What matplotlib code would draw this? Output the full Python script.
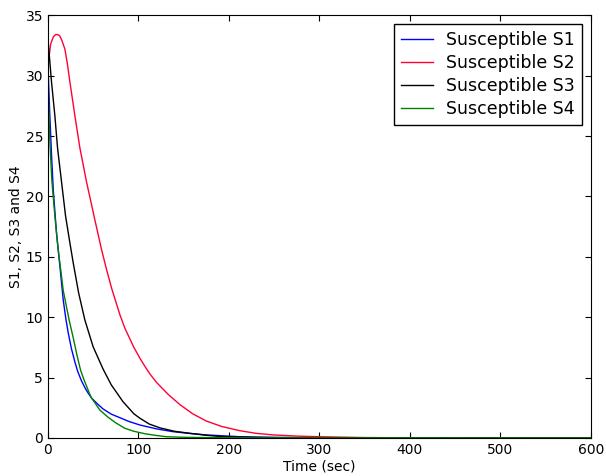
import matplotlib
matplotlib.use("Agg")
import matplotlib.pyplot as plt

# values
t_s1 = [0, 2, 4, 6, 9.6, 13.3, 17, 20, 22.5, 26, 29.8, 33, 37, 41, 44.6, 48.3,
        55, 61, 70, 81, 90, 101.7, 120, 138, 157, 175, 212, 250, 300, 400, 600]
s1 = [31, 27, 23.5, 20.5, 16.9, 14.2, 11.4, 9.8, 8.7, 7.4, 6.3, 5.5, 4.75, 4.15, 3.7, 3.3,
      2.8, 2.4, 1.97, 1.63, 1.35, 1.07, 0.75, 0.52, 0.37, 0.25, 0.1, 0.04, 0.01, 0.0, 0.0]

t_s2 = [0, 1.1, 3, 6, 8.5, 10.7, 13, 15.5, 18.8, 21.5, 24.3, 29.8, 35.4, 42.7, 48.3, 51.2,
        59.3, 65, 70.4, 79.6, 85, 95, 101.7, 107, 112.7, 120, 133, 146, 160, 175, 192,
        212, 230, 249, 275, 300, 350, 400, 450, 600]
s2 = [30.5, 31.4, 32.6, 33.2, 33.4, 33.4, 33.3, 32.9, 32.2, 31.0, 29.5, 26.7, 24.0, 21.2, 19.3, 18.3,
      15.6, 13.9, 12.4, 10.2, 9.1, 7.5, 6.6, 5.95, 5.3, 4.6, 3.6, 2.75, 2.0, 1.4, 0.95,
      0.6, 0.38, 0.25, 0.15, 0.1, 0.03, 0.01, 0.0, 0.0]

t_s3 = [0, 2, 4, 7.7, 10.7, 15.1, 19.5, 24, 28, 34, 40.9, 50, 61, 70, 83, 95, 101.7,
        112, 124, 140, 157, 175, 193, 230, 300, 600]
s3 = [33, 31.3, 29.5, 26.7, 24.0, 21.2, 18.4, 16.3, 14.5, 12.0, 9.76, 7.55, 5.7, 4.4, 3.0, 2.0, 1.63,
      1.15, 0.83, 0.55, 0.38, 0.22, 0.1, 0.04, 0.01, 0.0]

t_s4 = [0, 2.2, 4.4, 7.7, 11.4, 17, 23.5, 28, 32, 36.1, 40, 46.4, 48.3, 52, 57.5, 66.7,
        75, 85, 95, 107, 120, 131, 150, 200, 600]
s4 = [29.5, 24.5, 21.3, 18.4, 15.6, 12.2, 9.76, 8.3, 6.9, 5.62, 4.8, 3.6, 3.3, 2.9, 2.3, 1.7,
      1.25, 0.8, 0.55, 0.35, 0.2, 0.1, 0.05, 0.01, 0.0]

series = [
    (t_s1, s1, "Susceptible S1", "blue"),
    (t_s2, s2, "Susceptible S2", "#ff0033"),
    (t_s3, s3, "Susceptible S3", "black"),
    (t_s4, s4, "Susceptible S4", "green"),
]

fig = plt.figure(figsize=(6.06, 4.76), dpi=100)
ax = fig.add_axes([0.079, 0.080, 0.896, 0.888])

for t, s, label, color in series:
    ax.plot(t, s, color=color, linewidth=1.0, label=label)

ax.set_xlim(0, 600)
ax.set_ylim(0, 35)
ax.set_xticks(range(0, 601, 100))
ax.set_yticks(range(0, 36, 5))
ax.tick_params(direction="in", top=True, right=True, labelsize=10, length=4)
ax.set_xlabel("Time (sec)", fontsize=10, labelpad=2)
ax.set_ylabel("S1, S2, S3 and S4", fontsize=10, labelpad=2)

leg = ax.legend(loc="upper right", fontsize=12.5, fancybox=False,
                edgecolor="black", framealpha=1, handlelength=1.8,
                labelspacing=0.3, borderaxespad=0.5)
leg.get_frame().set_linewidth(1.0)

fig.savefig("out.png", dpi=100)
